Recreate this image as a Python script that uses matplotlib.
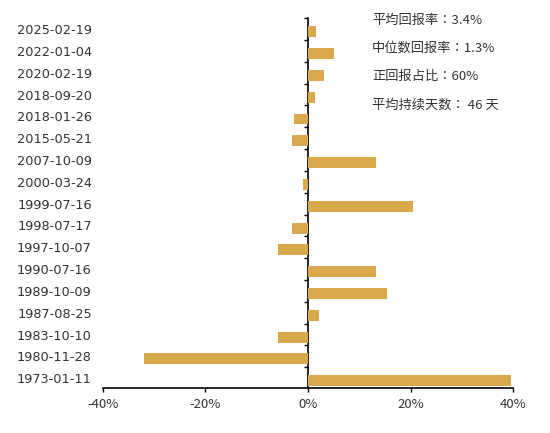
import matplotlib
matplotlib.use("Agg")
import matplotlib.pyplot as plt
from matplotlib.ticker import FuncFormatter

plt.rcParams['font.family'] = ['Noto Sans CJK SC', 'DejaVu Sans']

# dates, top to bottom
dates = [
    "2025-02-19", "2022-01-04", "2020-02-19", "2018-09-20", "2018-01-26",
    "2015-05-21", "2007-10-09", "2000-03-24", "1999-07-16", "1998-07-17",
    "1997-10-07", "1990-07-16", "1989-10-09", "1987-08-25", "1983-10-10",
    "1980-11-28", "1973-01-11",
]
# return in %
returns = [1.6, 5.1, 3.2, 1.3, -2.8, -3.1, 13.2, -0.9, 20.4, -3.2,
           -5.9, 13.2, 15.5, 2.2, -5.9, -31.9, 39.6]

stats = ["平均回报率：3.4%", "中位数回报率：1.3%", "正回报占比：60%", "平均持续天数： 46 天"]

gold = "#D9A94B"
txt = "#333333"

fig = plt.figure(figsize=(5.5, 4.33), dpi=100)
ax = fig.add_axes([0.187, 0.104, 0.746, 0.854])

pos = list(range(len(dates)))
ax.barh([p + 0.12 for p in pos], returns, height=0.5, color=gold)

ax.set_xlim(-40, 40)
ax.set_ylim(len(dates) - 0.55, -0.5)
ax.set_xticks([-40, -20, 0, 20, 40])
ax.xaxis.set_major_formatter(FuncFormatter(lambda v, p: "%d%%" % v))
ax.tick_params(axis="x", direction="out", length=3, width=1, colors="black",
               labelcolor=txt, labelsize=9.5, pad=4)

ax.set_yticks(pos)
ax.set_yticklabels(dates, family="DejaVu Sans")
ax.tick_params(axis="y", length=0, labelsize=9.3, labelcolor=txt, pad=8)

for s in ["top", "right", "left"]:
    ax.spines[s].set_visible(False)
ax.spines["bottom"].set_linewidth(1.2)

# zero line with ticks between categories
sec = ax.secondary_yaxis(0.5)
sec.set_alignment("left")
sec.set_yticks([p - 0.5 for p in pos])
sec.set_yticklabels([])
sec.tick_params(axis="y", direction="out", length=3, width=1)
sec.spines["left"].set_linewidth(1.2)

# stats box, TC font keeps the full-width colon centred
for i, s in enumerate(stats):
    fig.text(372 / 550, 1 - (20 + i * 28.3) / 433, s, fontsize=9.5,
             color=txt, va="center", ha="left",
             family=["Noto Sans CJK TC", "DejaVu Sans"])

fig.savefig("out.png", dpi=100)
